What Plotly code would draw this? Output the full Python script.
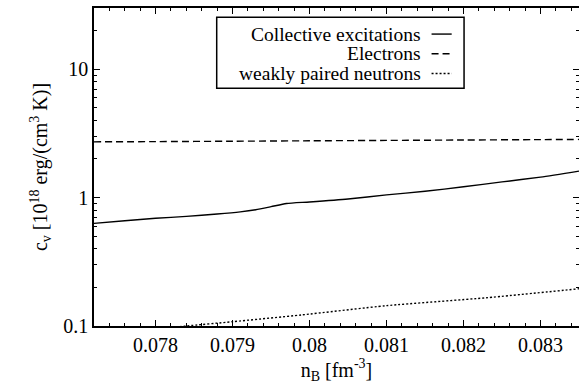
import plotly.graph_objects as go

# Data
n_coll = [0.0772, 0.0776, 0.0780, 0.0784, 0.0788, 0.0791, 0.0793, 0.0795, 0.0797, 0.0800, 0.0805,
          0.0810, 0.0815, 0.0820, 0.0825, 0.0830, 0.0835]
cv_coll = [0.630, 0.660, 0.690, 0.714, 0.745, 0.775, 0.805, 0.850, 0.900, 0.925, 0.975,
           1.050, 1.120, 1.215, 1.325, 1.445, 1.610]

n_elec = [0.0772, 0.0780, 0.0790, 0.0800, 0.0810, 0.0820, 0.0830, 0.0835]
cv_elec = [2.72, 2.73, 2.75, 2.77, 2.79, 2.81, 2.83, 2.84]

n_neut = [0.0780, 0.0784, 0.0790, 0.0799, 0.0810, 0.0823, 0.0835]
cv_neut = [0.0947, 0.100, 0.108, 0.122, 0.144, 0.166, 0.195]

legend_labels = ["Collective excitations", "Electrons", "weakly paired neutrons"]
x_ticks = [0.078, 0.079, 0.080, 0.081, 0.082, 0.083]
x_tick_text = ["0.078", "0.079", "0.08", "0.081", "0.082", "0.083"]
y_ticks = [0.1, 1, 10]
y_tick_text = ["0.1", "1", "10"]

FONT = "Liberation Serif, Times New Roman, serif"
TFONT = dict(family=FONT, size=20, color="black")
LFONT = dict(family=FONT, size=19.5, color="black")
line_w = 1.4
styles = [dict(color="black", width=line_w, dash="solid"),
          dict(color="black", width=line_w, dash="7px,4px"),
          dict(color="black", width=line_w, dash="2px,2px")]

fig = go.Figure()
for xs, ys, st, name, ax in [(n_coll, cv_coll, styles[0], legend_labels[0], "y"),
                             (n_elec, cv_elec, styles[1], legend_labels[1], "y2"),
                             (n_neut, cv_neut, styles[2], legend_labels[2], "y")]:
    fig.add_trace(go.Scatter(x=xs, y=ys, yaxis=ax, mode="lines",
                             line=dict(**st, shape="spline", smoothing=0.6),
                             name=name, showlegend=False))

minor_y = [m * d for d in (0.1, 1, 10) for m in range(2, 10) if m * d <= 30]
y_range = [-1, 1.477]

fig.update_layout(
    width=579, height=390,
    margin=dict(l=94, r=0, t=8, b=64),
    paper_bgcolor="white", plot_bgcolor="white",
    font=TFONT,
    xaxis=dict(
        range=[0.0772, 0.0835],
        tickmode="array", tickvals=x_ticks, ticktext=x_tick_text, tickfont=TFONT,
        ticks="inside", ticklen=6, tickwidth=1, tickcolor="black",
        minor=dict(ticks="inside", ticklen=3, dtick=0.0002, tick0=0.078, tickcolor="black"),
        showline=True, linecolor="black", linewidth=1.5, mirror="ticks",
        showgrid=False, zeroline=False,
        title=dict(text="n<sub>B</sub> [fm<sup>-3</sup>]", font=TFONT, standoff=8),
    ),
    yaxis=dict(
        type="log", range=y_range,
        tickmode="array", tickvals=y_ticks, ticktext=y_tick_text, tickfont=TFONT,
        ticks="inside", ticklen=6, tickwidth=1, tickcolor="black",
        minor=dict(ticks="inside", ticklen=3, tickvals=minor_y, tickcolor="black"),
        showline=True, linecolor="black", linewidth=1.5, mirror=False,
        showgrid=False, zeroline=False,
        title=dict(text="c<sub>v</sub> [10<sup>18</sup> erg/(cm<sup>3</sup> K)]", font=TFONT, standoff=10),
    ),
    yaxis2=dict(
        type="log", range=y_range, overlaying="y", side="right",
        tickmode="array", tickvals=y_ticks, showticklabels=False,
        ticks="inside", ticklen=6, tickwidth=1, tickcolor="black",
        minor=dict(ticks="inside", ticklen=3, tickvals=minor_y, tickcolor="black"),
        showline=False, showgrid=False, zeroline=False,
    ),
)

# Legend box (gnuplot style: text right-aligned, sample on the right)
fig.add_shape(type="rect", xref="paper", yref="paper", x0=0.253, x1=0.763, y0=0.7475, y1=0.971,
              line=dict(color="black", width=1.5), fillcolor="white", layer="above")
row_y = [0.918, 0.856, 0.794]
for lab, st, yy in zip(legend_labels, styles, row_y):
    fig.add_annotation(xref="paper", yref="paper", x=0.676, y=yy, text=lab, showarrow=False,
                       xanchor="right", yanchor="middle", font=LFONT, borderpad=0)
    fig.add_shape(type="line", xref="paper", yref="paper", x0=0.696, x1=0.7375, y0=yy, y1=yy,
                  line=dict(color=st["color"], width=st["width"], dash=st["dash"]), layer="above")

fig.write_html("out.html", config={"displayModeBar": False},
               post_script="document.body.style.margin='0';document.body.style.overflow='hidden';")
